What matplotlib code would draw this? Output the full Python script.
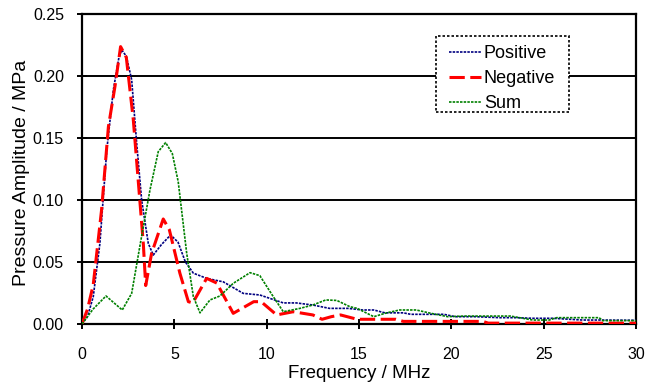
import numpy as np
import matplotlib.pyplot as plt
from matplotlib.patches import Rectangle

plt.rcParams['font.family'] = ['Liberation Sans', 'DejaVu Sans']

# values
pos_f = [0, 0.3, 0.61, 0.97, 1.34, 1.7, 2.0, 2.15, 2.4, 2.69, 2.96, 3.23, 3.59, 3.86,
         4.3, 4.8, 5.2, 5.6, 6.03, 6.75, 7.65, 8.73, 9.63, 10.9, 11.6, 12.5, 13.4,
         14.4, 15.2, 15.8, 16.4, 17.4, 17.8, 19.6, 20.2, 21.3, 22.6, 23.5, 24.4,
         25.5, 27.1, 28.0, 30.0]
pos_v = [0, 0.006, 0.022, 0.065, 0.14, 0.189, 0.215, 0.221, 0.216, 0.197, 0.146, 0.1,
         0.065, 0.0556, 0.064, 0.0718, 0.066, 0.05, 0.041, 0.0368, 0.034, 0.0247,
         0.0234, 0.017, 0.017, 0.0153, 0.0126, 0.0126, 0.0113, 0.0113, 0.009,
         0.009, 0.0078, 0.0078, 0.0059, 0.0059, 0.0051, 0.0051, 0.0046, 0.0046,
         0.0032, 0.0032, 0.003]

neg_f = [0, 0.3, 0.61, 1.06, 1.43, 1.79, 2.09, 2.4, 2.78, 3.32, 3.45, 3.77, 4.4, 4.73,
         5.3, 5.76, 6.0, 6.75, 7.3, 8.19, 9.3, 9.7, 10.54, 11.44, 12.5, 13.0, 13.5,
         14.0, 14.9, 17.0, 17.4, 21.7, 22.0, 30.0]
neg_v = [0, 0.012, 0.0317, 0.092, 0.159, 0.192, 0.2237, 0.215, 0.1645, 0.065, 0.031,
         0.057, 0.0847, 0.076, 0.041, 0.018, 0.017, 0.0368, 0.033, 0.0086, 0.018,
         0.018, 0.0073, 0.0099, 0.0073, 0.0038, 0.0059, 0.0073, 0.0038, 0.0038,
         0.0021, 0.0021, 0.0007, 0.0007]

sum_f = [0, 0.6, 1.3, 2.18, 2.69, 3.16, 3.68, 4.13, 4.53, 4.89, 5.21, 5.67, 6.03, 6.39,
         6.93, 7.47, 8.19, 9.1, 9.63, 10.36, 10.9, 11.8, 12.5, 13.2, 13.8, 14.5,
         14.9, 15.8, 16.5, 17.2, 18.1, 18.9, 19.8, 20.7, 23.2, 24.4, 25.3, 25.7,
         28.0, 28.2, 30.0]
sum_v = [0, 0.012, 0.0226, 0.0113, 0.0247, 0.065, 0.108, 0.139, 0.1463, 0.1375,
         0.1148, 0.057, 0.022, 0.009, 0.0194, 0.0226, 0.0328, 0.0414, 0.039, 0.022,
         0.0099, 0.0126, 0.0153, 0.0194, 0.019, 0.014, 0.0126, 0.0059, 0.009, 0.0113,
         0.0113, 0.0086, 0.0059, 0.0064, 0.0064, 0.0032, 0.0032, 0.0051, 0.0051,
         0.0027, 0.0027]

x_ticks = [0, 5, 10, 15, 20, 25, 30]
y_ticks = [0.00, 0.05, 0.10, 0.15, 0.20, 0.25]

fig = plt.figure(figsize=(6.58, 3.87), dpi=100)
ax = fig.add_axes([0.1246, 0.1628, 0.842, 0.801])

for y in y_ticks[1:-1]:
    ax.axhline(y, color='black', lw=1.4, zorder=1)

ax.plot(pos_f, pos_v, color='#000080', lw=1.2, ls=(0, (1.5, 0.7)), label='Positive', zorder=3)
ax.plot(neg_f, neg_v, color='#ff0000', lw=2.2, ls=(0, (5, 1.8)), label='Negative', zorder=3)
ax.plot(sum_f, sum_v, color='#008000', lw=1.2, ls=(0, (1.5, 0.7)), label='Sum', zorder=3)

ax.set_xlim(0, 30)
ax.set_ylim(0, 0.25)
ax.set_xticks(x_ticks)
ax.set_xticklabels([str(t) for t in x_ticks])
ax.set_yticks(y_ticks)
ax.set_yticklabels(['%.2f' % t for t in y_ticks])
ax.tick_params(direction='inout', length=7, width=1.4, labelsize=11.5)
ax.tick_params(axis='x', pad=13)
ax.tick_params(axis='y', pad=9.5)
for s in ax.spines.values():
    s.set_linewidth(1.6)

ax.set_xlabel('Frequency / MHz', fontsize=13.5)
ax.set_ylabel('Pressure Amplitude / MPa', fontsize=14)
ax.xaxis.set_label_coords(0.5, -0.132)
ax.yaxis.set_label_coords(-0.094, 0.488)

# legend box
box = Rectangle((0.639, 0.684), 0.24, 0.245, transform=ax.transAxes,
                facecolor='white', edgecolor='black', lw=1.2,
                ls=(0, (1.5, 1.2)), zorder=4)
ax.add_patch(box)

leg = ax.legend(loc='upper left', bbox_to_anchor=(0.6625, 0.899), fontsize=13,
                frameon=False, handlelength=1.78, handletextpad=0.15,
                borderpad=0, labelspacing=0.44, borderaxespad=0)
leg.set_zorder(5)

fig.savefig('out.png', dpi=100)
